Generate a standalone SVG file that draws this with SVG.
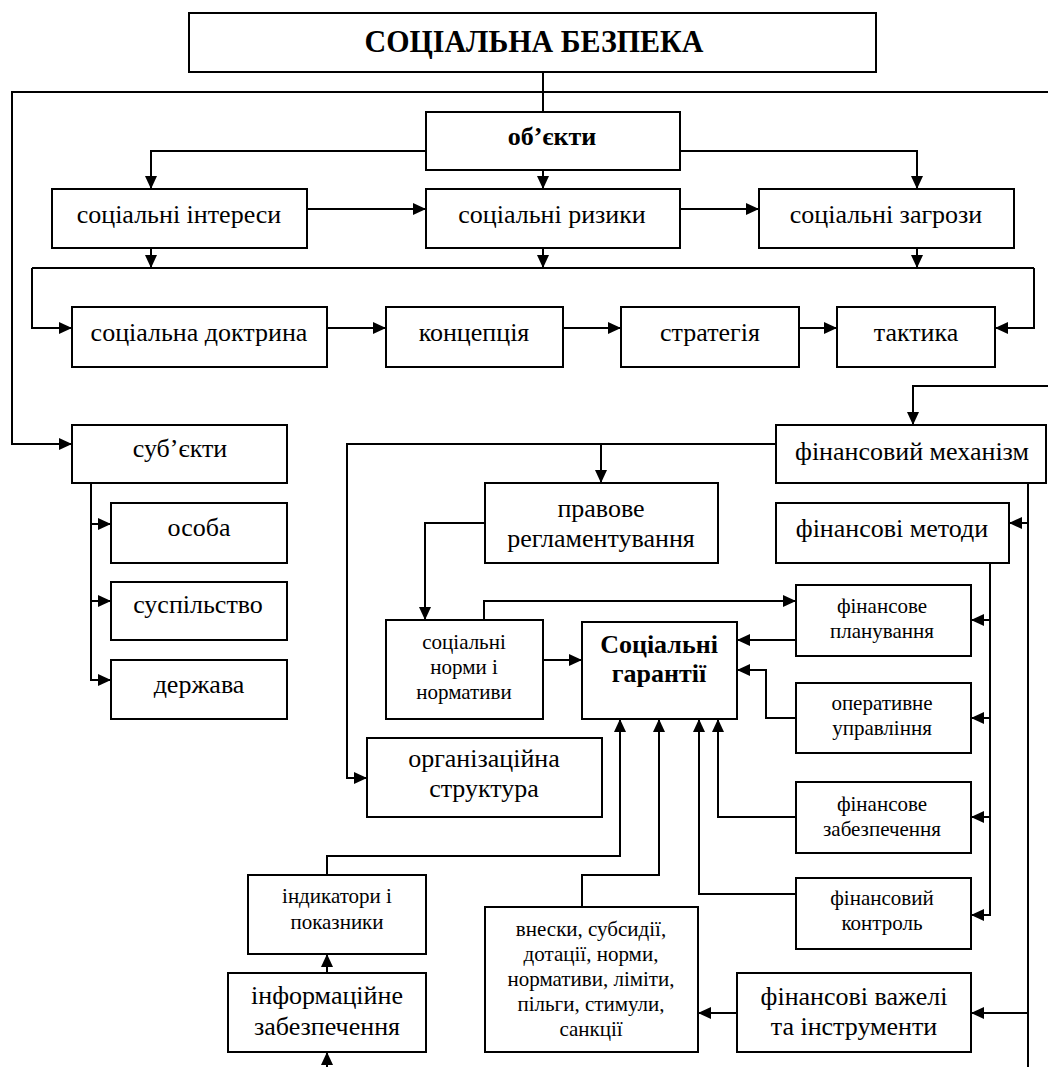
<svg xmlns="http://www.w3.org/2000/svg" width="1048" height="1067" viewBox="0 0 1048 1067">
<defs>
<marker id="ar" viewBox="0 0 13 12" refX="13" refY="6" markerWidth="13" markerHeight="12" markerUnits="userSpaceOnUse" orient="auto">
<path d="M0,0 L13,6 L0,12 z" fill="#000"/>
</marker>
<style>
.b{fill:#fff;stroke:#000;stroke-width:2}
.t{font-family:"Liberation Serif","Times New Roman",serif;fill:#000;text-anchor:middle}
.L{font-size:26px}
.S{font-size:21px}
.B{font-weight:bold}
.c path{fill:none;stroke:#000;stroke-width:2}
.c .a{marker-end:url(#ar)}
</style>
</defs>
<rect width="1048" height="1067" fill="#fff"/>
<g class="c" id="connectors">
<path d="M543,72 V112"/>
<path class="a" d="M1048,92 H12 V444 H72"/>
<path class="a" d="M426,151 H151 V189"/>
<path class="a" d="M543,170 V189"/>
<path class="a" d="M680,151 H917 V189"/>
<path class="a" d="M307,209 H426"/>
<path class="a" d="M680,209 H759"/>
<path class="a" d="M151,248 V268"/>
<path class="a" d="M543,248 V268"/>
<path class="a" d="M917,248 V268"/>
<path d="M32,268 H1034"/>
<path class="a" d="M32,268 V328 H72"/>
<path class="a" d="M1034,268 V328 H995"/>
<path class="a" d="M327,328 H386"/>
<path class="a" d="M563,328 H621"/>
<path class="a" d="M799,328 H837"/>
<path class="a" d="M1048,386 H913 V425"/>
<path class="a" d="M776,444 H347 V778 H367"/>
<path class="a" d="M601,444 V483"/>
<path class="a" d="M485,523 H425 V620"/>
<path class="a" d="M484,620 V601 H796"/>
<path class="a" d="M543,660 H582"/>
<path class="a" d="M796,640 H737"/>
<path class="a" d="M796,718 H766 V670 H737"/>
<path class="a" d="M796,817 H718 V719"/>
<path class="a" d="M796,894 H699 V719"/>
<path class="a" d="M327,875 V856 H620 V719"/>
<path class="a" d="M582,907 V875 H659 V719"/>
<path class="a" d="M327,973 V954"/>
<path class="a" d="M327,1067 V1052"/>
<path class="a" d="M737,1013 H698"/>
<path d="M1028,483 V1067"/>
<path class="a" d="M1028,523 H1009"/>
<path class="a" d="M1028,1013 H971"/>
<path class="a" d="M990,563 V915 H971"/>
<path class="a" d="M990,620 H971"/>
<path class="a" d="M990,718 H971"/>
<path class="a" d="M990,817 H971"/>
<path class="a" d="M91,483 V680 H111"/>
<path class="a" d="M91,524 H111"/>
<path class="a" d="M91,601 H111"/>
</g>
<g id="title"><rect class="b" x="189" y="13" width="687" height="59"/><text class="t B" x="534" y="52" font-size="31" textLength="339" lengthAdjust="spacingAndGlyphs">СОЦІАЛЬНА БЕЗПЕКА</text></g>
<g id="obiekty"><rect class="b" x="426" y="112" width="254" height="58"/><text class="t L B" x="552" y="145">об’єкти</text></g>
<g id="interesy"><rect class="b" x="52" y="189" width="255" height="59"/><text class="t L" x="179" y="223">соціальні інтереси</text></g>
<g id="ryzyky"><rect class="b" x="426" y="189" width="254" height="59"/><text class="t L" x="552" y="223">соціальні ризики</text></g>
<g id="zahrozy"><rect class="b" x="759" y="189" width="255" height="59"/><text class="t L" x="886" y="223">соціальні загрози</text></g>
<g id="doktryna"><rect class="b" x="72" y="307" width="255" height="60"/><text class="t L" x="199" y="341">соціальна доктрина</text></g>
<g id="kontseptsiia"><rect class="b" x="386" y="307" width="177" height="60"/><text class="t L" x="474" y="341">концепція</text></g>
<g id="stratehiia"><rect class="b" x="621" y="307" width="178" height="60"/><text class="t L" x="710" y="341">стратегія</text></g>
<g id="taktyka"><rect class="b" x="837" y="307" width="158" height="60"/><text class="t L" x="916" y="341">тактика</text></g>
<g id="subiekty"><rect class="b" x="72" y="425" width="215" height="58"/><text class="t L" x="180" y="457">суб’єкти</text></g>
<g id="osoba"><rect class="b" x="111" y="503" width="176" height="60"/><text class="t L" x="199" y="536">особа</text></g>
<g id="suspilstvo"><rect class="b" x="111" y="582" width="176" height="58"/><text class="t L" x="198" y="613">суспільство</text></g>
<g id="derzhava"><rect class="b" x="111" y="660" width="176" height="59"/><text class="t L" x="199" y="693">держава</text></g>
<g id="mekhanizm"><rect class="b" x="776" y="425" width="270" height="58"/><text class="t L" x="912" y="460">фінансовий механізм</text></g>
<g id="pravove"><rect class="b" x="485" y="483" width="233" height="80"/><text class="t L" x="601" y="517">правове</text><text class="t L" x="601" y="547">регламентування</text></g>
<g id="metody"><rect class="b" x="776" y="503" width="233" height="60"/><text class="t L" x="892" y="537">фінансові методи</text></g>
<g id="normy"><rect class="b" x="386" y="620" width="157" height="99"/><text class="t S" x="464" y="649">соціальні</text><text class="t S" x="464" y="674">норми і</text><text class="t S" x="464" y="699">нормативи</text></g>
<g id="harantii"><rect class="b" x="582" y="622" width="155" height="97"/><text class="t L B" x="659" y="653">Соціальні</text><text class="t L B" x="659" y="682">гарантії</text></g>
<g id="planuvannia"><rect class="b" x="796" y="585" width="175" height="71"/><text class="t S" x="882" y="613">фінансове</text><text class="t S" x="882" y="638">планування</text></g>
<g id="operatyvne"><rect class="b" x="796" y="683" width="175" height="70"/><text class="t S" x="882" y="710">оперативне</text><text class="t S" x="882" y="735">управління</text></g>
<g id="orhstruktura"><rect class="b" x="367" y="738" width="235" height="79"/><text class="t L" x="484" y="767">організаційна</text><text class="t L" x="484" y="797">структура</text></g>
<g id="zabezpechennia"><rect class="b" x="796" y="782" width="175" height="71"/><text class="t S" x="882" y="811">фінансове</text><text class="t S" x="882" y="836">забезпечення</text></g>
<g id="kontrol"><rect class="b" x="796" y="878" width="175" height="71"/><text class="t S" x="882" y="905">фінансовий</text><text class="t S" x="882" y="930">контроль</text></g>
<g id="indykatory"><rect class="b" x="248" y="875" width="178" height="79"/><text class="t S" x="337" y="903">індикатори і</text><text class="t S" x="337" y="929">показники</text></g>
<g id="vnesky"><rect class="b" x="485" y="907" width="213" height="145"/><text class="t S" x="591" y="936">внески, субсидії,</text><text class="t S" x="591" y="961">дотації, норми,</text><text class="t S" x="591" y="986">нормативи, ліміти,</text><text class="t S" x="591" y="1011">пільги, стимули,</text><text class="t S" x="591" y="1036">санкції</text></g>
<g id="informatsiine"><rect class="b" x="228" y="973" width="198" height="79"/><text class="t L" x="327" y="1004">інформаційне</text><text class="t L" x="327" y="1035">забезпечення</text></g>
<g id="vazheli"><rect class="b" x="737" y="973" width="234" height="79"/><text class="t L" x="854" y="1005">фінансові важелі</text><text class="t L" x="854" y="1035">та інструменти</text></g>
</svg>
